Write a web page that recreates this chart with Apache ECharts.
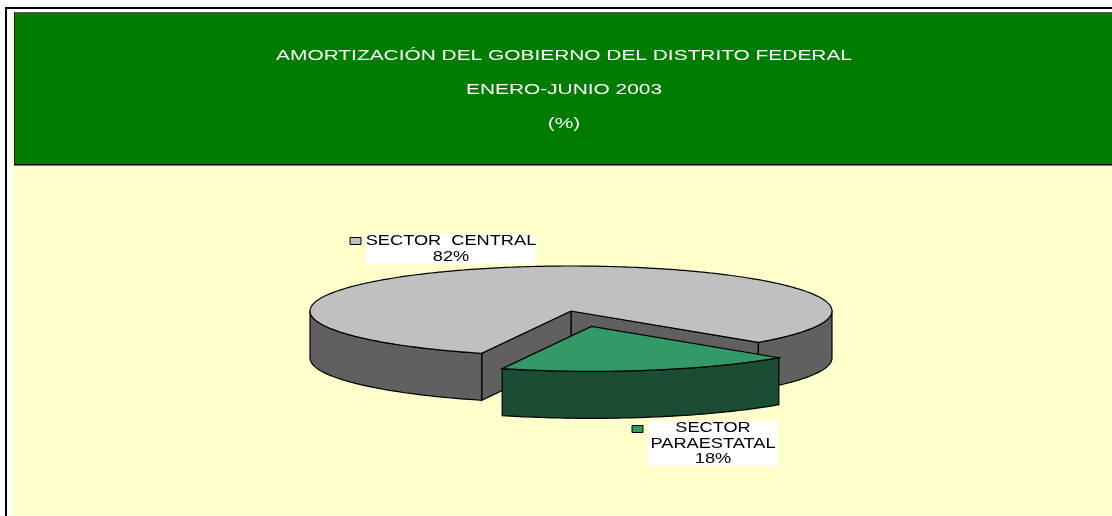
<!DOCTYPE html>
<html>
<head>
    <meta charset="utf-8">
    <title>Amortización</title>
    <style>
        html, body { margin: 0; padding: 0; background: #ffffff; }
        #chart { width: 1112px; height: 516px; }
    </style>
</head>
<body>
<div id="chart"></div>
<script src="https://cdn.jsdelivr.net/npm/echarts@6/dist/echarts.min.js"></script>
<script>
    var titleLines = ['AMORTIZACIÓN DEL GOBIERNO DEL DISTRITO FEDERAL', 'ENERO-JUNIO 2003', '(%)'];
    var categories = [['SECTOR  CENTRAL'], ['SECTOR', 'PARAESTATAL']];
    // the labels round these to 82% and 18%; the slice sweep reads closer to 18.3
    var shares = [81.7, 18.3];

    var topColors = ['#c0c0c0', '#339966'];
    var sideColors = ['#606060', '#1a4d33'];

    // pie layout in pixels
    var cx = 571, cy = 311, rx = 261, ry = 45, depth = 47;
    var firstAngle = 110;
    var explode = [0, 0.35];

    var chart = echarts.init(document.getElementById('chart'), null, {renderer: 'canvas'});

    function pt(ox, oy, deg) {
        var a = deg * Math.PI / 180;
        return [ox + rx * Math.cos(a), oy + ry * Math.sin(a)];
    }

    function arc(ox, oy, from, to) {
        var list = [];
        var n = Math.ceil(Math.abs(to - from));
        for (var i = 0; i <= n; i++) {
            list.push(pt(ox, oy, from + (to - from) * i / n));
        }
        return list;
    }

    function poly(points, fill) {
        return {
            type: 'polygon',
            shape: {points: points},
            style: {fill: fill, stroke: '#000000', lineWidth: 1.2}
        };
    }

    function down(points) {
        return points.map(function (p) {
            return [p[0], p[1] + depth];
        }).reverse();
    }

    // the wall under the rim, only where the rim faces the viewer (0..180)
    function rimWall(ox, oy, from, to, fill) {
        var top = arc(ox, oy, from, to);
        return poly(top.concat(down(top)), fill);
    }

    function renderSlice(params, api) {
        var i = params.dataIndex;
        var before = 0;
        for (var k = 0; k < i; k++) {
            before += shares[k];
        }
        var start = (firstAngle + before * 3.6) % 360;
        var end = start + api.value(0) * 3.6;
        var mid = (start + end) / 2 * Math.PI / 180;
        var ox = cx + explode[i] * rx * Math.cos(mid);
        var oy = cy + explode[i] * ry * Math.sin(mid);
        var children = [];
        var side = sideColors[i];

        if (end > 360) {
            // big slice: cut faces seen through the gap, then the two rim parts
            var c = [ox, oy];
            var a = pt(ox, oy, end);
            var b = pt(ox, oy, start);
            children.push(poly([c, a].concat(down([c, a])), side));
            children.push(poly([c, b].concat(down([c, b])), side));
            children.push(rimWall(ox, oy, start, 180, side));
            children.push(rimWall(ox, oy, 0, end - 360, side));
        } else {
            children.push(rimWall(ox, oy, start, end, side));
        }
        children.push(poly([[ox, oy]].concat(arc(ox, oy, start, end)), topColors[i]));
        return {type: 'group', children: children};
    }

    function textEl(str, x, y, scaleX, color, size) {
        return {
            type: 'text',
            x: x,
            y: y,
            scaleX: scaleX,
            z: 10,
            style: {
                text: str,
                fill: color,
                font: size + 'px "Liberation Sans", Arial, sans-serif',
                textAlign: 'center',
                textVerticalAlign: 'middle'
            }
        };
    }

    var frame = [
        {type: 'rect', shape: {x: 12, y: 12, width: 1100, height: 504}, style: {fill: '#ffffcc'}, z: 0},
        {type: 'rect', shape: {x: 5, y: 7, width: 2, height: 509}, style: {fill: '#000000'}, z: 0},
        {type: 'rect', shape: {x: 5, y: 7, width: 1107, height: 2}, style: {fill: '#000000'}, z: 0},
        {type: 'rect', shape: {x: 15, y: 13, width: 1097, height: 151}, style: {fill: '#007c00'}, z: 1},
        {type: 'rect', shape: {x: 14, y: 12, width: 1098, height: 1.5}, style: {fill: '#555555'}, z: 1},
        {type: 'rect', shape: {x: 14, y: 12, width: 1, height: 153}, style: {fill: '#222222'}, z: 1},
        {type: 'rect', shape: {x: 14, y: 164, width: 1098, height: 1.5}, style: {fill: '#000000'}, z: 1}
    ];

    var titleY = [56, 90, 124];
    titleLines.forEach(function (line, i) {
        frame.push(textEl(line, 564, titleY[i], 1.44, '#ffffff', 14.5));
    });

    // data labels: white box, legend key, text lines
    var labelBoxes = [
        {x: 366, y: 234, w: 170, h: 30, key: [350, 237.5], lines: [241, 257]},
        {x: 648, y: 421, w: 130, h: 45, key: [632, 425.5], lines: [428, 444, 459]}
    ];
    labelBoxes.forEach(function (box, i) {
        frame.push({type: 'rect', shape: {x: box.x, y: box.y, width: box.w, height: box.h}, style: {fill: '#ffffff'}, z: 5});
        frame.push({
            type: 'rect',
            shape: {x: box.key[0], y: box.key[1], width: 11, height: 7},
            style: {fill: topColors[i], stroke: '#000000', lineWidth: 1},
            z: 5
        });
        var texts = categories[i].concat([Math.round(shares[i]) + '%']);
        texts.forEach(function (t, j) {
            frame.push(textEl(t, box.x + box.w / 2, box.lines[j], 1.255, '#000000', 14.5));
        });
    });

    chart.setOption({
        animation: false,
        backgroundColor: '#ffffff',
        graphic: {elements: frame},
        series: [{
            type: 'custom',
            coordinateSystem: 'none',
            silent: true,
            z: 3,
            renderItem: renderSlice,
            data: shares.map(function (v) { return [v]; })
        }]
    });
</script>
</body>
</html>
